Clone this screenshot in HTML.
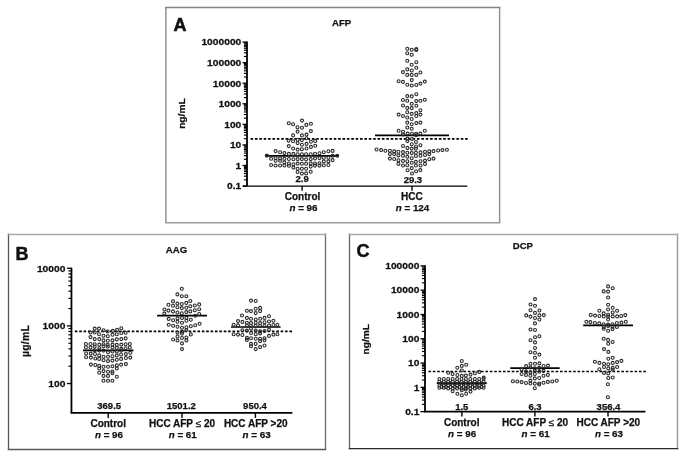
<!DOCTYPE html>
<html><head><meta charset="utf-8"><style>
html,body{margin:0;padding:0;background:#fff;}
svg{display:block;will-change:transform;font-family:"Liberation Sans",sans-serif;}
text{fill:#111;stroke:#111;stroke-width:0.25px;}
</style></head><body>
<svg width="685" height="459" viewBox="0 0 685 459">
<rect width="685" height="459" fill="#fff"/>
<line x1="165.90" y1="7.00" x2="165.90" y2="223.00" stroke="#8a8a8a" stroke-width="1.4" />
<line x1="499.60" y1="7.00" x2="499.60" y2="223.00" stroke="#8e8e8e" stroke-width="1.4" />
<line x1="165.20" y1="7.50" x2="500.30" y2="7.50" stroke="#848484" stroke-width="1.4" />
<line x1="165.20" y1="222.70" x2="500.30" y2="222.70" stroke="#9a9a9a" stroke-width="1.5" />
<line x1="8.50" y1="233.50" x2="8.50" y2="450.00" stroke="#555" stroke-width="1.3" />
<line x1="325.50" y1="233.50" x2="325.50" y2="450.00" stroke="#6a6a6a" stroke-width="1.3" />
<line x1="7.80" y1="234.40" x2="326.20" y2="234.40" stroke="#a8a8a8" stroke-width="1.5" />
<line x1="7.80" y1="449.50" x2="326.20" y2="449.50" stroke="#5a5a5a" stroke-width="1.4" />
<line x1="349.50" y1="233.50" x2="349.50" y2="449.30" stroke="#666" stroke-width="1.3" />
<line x1="677.50" y1="233.50" x2="677.50" y2="449.30" stroke="#999" stroke-width="1.4" />
<line x1="348.80" y1="234.40" x2="678.20" y2="234.40" stroke="#a8a8a8" stroke-width="1.5" />
<line x1="348.80" y1="448.60" x2="678.20" y2="448.60" stroke="#2a2a2a" stroke-width="1.4" />
<line x1="247.00" y1="41.59" x2="247.00" y2="186.10" stroke="#000" stroke-width="1.8" />
<line x1="242.50" y1="186.01" x2="247.00" y2="186.01" stroke="#000" stroke-width="1.3" />
<line x1="242.50" y1="165.45" x2="247.00" y2="165.45" stroke="#000" stroke-width="1.3" />
<line x1="242.50" y1="144.89" x2="247.00" y2="144.89" stroke="#000" stroke-width="1.3" />
<line x1="242.50" y1="124.33" x2="247.00" y2="124.33" stroke="#000" stroke-width="1.3" />
<line x1="242.50" y1="103.77" x2="247.00" y2="103.77" stroke="#000" stroke-width="1.3" />
<line x1="242.50" y1="83.21" x2="247.00" y2="83.21" stroke="#000" stroke-width="1.3" />
<line x1="242.50" y1="62.65" x2="247.00" y2="62.65" stroke="#000" stroke-width="1.3" />
<line x1="242.50" y1="42.09" x2="247.00" y2="42.09" stroke="#000" stroke-width="1.3" />
<line x1="243.90" y1="179.82" x2="247.00" y2="179.82" stroke="#000" stroke-width="1.15" />
<line x1="243.90" y1="176.20" x2="247.00" y2="176.20" stroke="#000" stroke-width="1.15" />
<line x1="243.90" y1="173.63" x2="247.00" y2="173.63" stroke="#000" stroke-width="1.15" />
<line x1="243.90" y1="171.64" x2="247.00" y2="171.64" stroke="#000" stroke-width="1.15" />
<line x1="243.90" y1="170.01" x2="247.00" y2="170.01" stroke="#000" stroke-width="1.15" />
<line x1="243.90" y1="168.63" x2="247.00" y2="168.63" stroke="#000" stroke-width="1.15" />
<line x1="243.90" y1="167.44" x2="247.00" y2="167.44" stroke="#000" stroke-width="1.15" />
<line x1="243.90" y1="166.39" x2="247.00" y2="166.39" stroke="#000" stroke-width="1.15" />
<line x1="243.90" y1="159.26" x2="247.00" y2="159.26" stroke="#000" stroke-width="1.15" />
<line x1="243.90" y1="155.64" x2="247.00" y2="155.64" stroke="#000" stroke-width="1.15" />
<line x1="243.90" y1="153.07" x2="247.00" y2="153.07" stroke="#000" stroke-width="1.15" />
<line x1="243.90" y1="151.08" x2="247.00" y2="151.08" stroke="#000" stroke-width="1.15" />
<line x1="243.90" y1="149.45" x2="247.00" y2="149.45" stroke="#000" stroke-width="1.15" />
<line x1="243.90" y1="148.07" x2="247.00" y2="148.07" stroke="#000" stroke-width="1.15" />
<line x1="243.90" y1="146.88" x2="247.00" y2="146.88" stroke="#000" stroke-width="1.15" />
<line x1="243.90" y1="145.83" x2="247.00" y2="145.83" stroke="#000" stroke-width="1.15" />
<line x1="243.90" y1="138.70" x2="247.00" y2="138.70" stroke="#000" stroke-width="1.15" />
<line x1="243.90" y1="135.08" x2="247.00" y2="135.08" stroke="#000" stroke-width="1.15" />
<line x1="243.90" y1="132.51" x2="247.00" y2="132.51" stroke="#000" stroke-width="1.15" />
<line x1="243.90" y1="130.52" x2="247.00" y2="130.52" stroke="#000" stroke-width="1.15" />
<line x1="243.90" y1="128.89" x2="247.00" y2="128.89" stroke="#000" stroke-width="1.15" />
<line x1="243.90" y1="127.51" x2="247.00" y2="127.51" stroke="#000" stroke-width="1.15" />
<line x1="243.90" y1="126.32" x2="247.00" y2="126.32" stroke="#000" stroke-width="1.15" />
<line x1="243.90" y1="125.27" x2="247.00" y2="125.27" stroke="#000" stroke-width="1.15" />
<line x1="243.90" y1="118.14" x2="247.00" y2="118.14" stroke="#000" stroke-width="1.15" />
<line x1="243.90" y1="114.52" x2="247.00" y2="114.52" stroke="#000" stroke-width="1.15" />
<line x1="243.90" y1="111.95" x2="247.00" y2="111.95" stroke="#000" stroke-width="1.15" />
<line x1="243.90" y1="109.96" x2="247.00" y2="109.96" stroke="#000" stroke-width="1.15" />
<line x1="243.90" y1="108.33" x2="247.00" y2="108.33" stroke="#000" stroke-width="1.15" />
<line x1="243.90" y1="106.95" x2="247.00" y2="106.95" stroke="#000" stroke-width="1.15" />
<line x1="243.90" y1="105.76" x2="247.00" y2="105.76" stroke="#000" stroke-width="1.15" />
<line x1="243.90" y1="104.71" x2="247.00" y2="104.71" stroke="#000" stroke-width="1.15" />
<line x1="243.90" y1="97.58" x2="247.00" y2="97.58" stroke="#000" stroke-width="1.15" />
<line x1="243.90" y1="93.96" x2="247.00" y2="93.96" stroke="#000" stroke-width="1.15" />
<line x1="243.90" y1="91.39" x2="247.00" y2="91.39" stroke="#000" stroke-width="1.15" />
<line x1="243.90" y1="89.40" x2="247.00" y2="89.40" stroke="#000" stroke-width="1.15" />
<line x1="243.90" y1="87.77" x2="247.00" y2="87.77" stroke="#000" stroke-width="1.15" />
<line x1="243.90" y1="86.39" x2="247.00" y2="86.39" stroke="#000" stroke-width="1.15" />
<line x1="243.90" y1="85.20" x2="247.00" y2="85.20" stroke="#000" stroke-width="1.15" />
<line x1="243.90" y1="84.15" x2="247.00" y2="84.15" stroke="#000" stroke-width="1.15" />
<line x1="243.90" y1="77.02" x2="247.00" y2="77.02" stroke="#000" stroke-width="1.15" />
<line x1="243.90" y1="73.40" x2="247.00" y2="73.40" stroke="#000" stroke-width="1.15" />
<line x1="243.90" y1="70.83" x2="247.00" y2="70.83" stroke="#000" stroke-width="1.15" />
<line x1="243.90" y1="68.84" x2="247.00" y2="68.84" stroke="#000" stroke-width="1.15" />
<line x1="243.90" y1="67.21" x2="247.00" y2="67.21" stroke="#000" stroke-width="1.15" />
<line x1="243.90" y1="65.83" x2="247.00" y2="65.83" stroke="#000" stroke-width="1.15" />
<line x1="243.90" y1="64.64" x2="247.00" y2="64.64" stroke="#000" stroke-width="1.15" />
<line x1="243.90" y1="63.59" x2="247.00" y2="63.59" stroke="#000" stroke-width="1.15" />
<line x1="243.90" y1="56.46" x2="247.00" y2="56.46" stroke="#000" stroke-width="1.15" />
<line x1="243.90" y1="52.84" x2="247.00" y2="52.84" stroke="#000" stroke-width="1.15" />
<line x1="243.90" y1="50.27" x2="247.00" y2="50.27" stroke="#000" stroke-width="1.15" />
<line x1="243.90" y1="48.28" x2="247.00" y2="48.28" stroke="#000" stroke-width="1.15" />
<line x1="243.90" y1="46.65" x2="247.00" y2="46.65" stroke="#000" stroke-width="1.15" />
<line x1="243.90" y1="45.27" x2="247.00" y2="45.27" stroke="#000" stroke-width="1.15" />
<line x1="243.90" y1="44.08" x2="247.00" y2="44.08" stroke="#000" stroke-width="1.15" />
<line x1="243.90" y1="43.03" x2="247.00" y2="43.03" stroke="#000" stroke-width="1.15" />
<text transform="translate(241.30,189.31) scale(1.09,1)" font-size="9.4" text-anchor="end" font-weight="bold">0.1</text>
<text transform="translate(241.30,168.75) scale(1.09,1)" font-size="9.4" text-anchor="end" font-weight="bold">1</text>
<text transform="translate(241.30,148.19) scale(1.09,1)" font-size="9.4" text-anchor="end" font-weight="bold">10</text>
<text transform="translate(241.30,127.63) scale(1.09,1)" font-size="9.4" text-anchor="end" font-weight="bold">100</text>
<text transform="translate(241.30,107.07) scale(1.09,1)" font-size="9.4" text-anchor="end" font-weight="bold">1000</text>
<text transform="translate(241.30,86.51) scale(1.09,1)" font-size="9.4" text-anchor="end" font-weight="bold">10000</text>
<text transform="translate(241.30,65.95) scale(1.09,1)" font-size="9.4" text-anchor="end" font-weight="bold">100000</text>
<text transform="translate(241.30,45.39) scale(1.09,1)" font-size="9.4" text-anchor="end" font-weight="bold">1000000</text>
<line x1="243.00" y1="186.10" x2="467.30" y2="186.10" stroke="#000" stroke-width="1.45" />
<line x1="302.10" y1="186.10" x2="302.10" y2="190.80" stroke="#000" stroke-width="1.4" />
<line x1="412.00" y1="186.10" x2="412.00" y2="190.80" stroke="#000" stroke-width="1.4" />
<line x1="250.54" y1="138.80" x2="467.76" y2="138.80" stroke="#000" stroke-width="1.65" stroke-dasharray="2.6 1.779"/>
<line x1="265.40" y1="155.94" x2="338.90" y2="155.94" stroke="#000" stroke-width="1.7" />
<line x1="375.00" y1="135.29" x2="449.00" y2="135.29" stroke="#000" stroke-width="1.7" />
<line x1="71.45" y1="267.75" x2="71.45" y2="412.90" stroke="#000" stroke-width="1.8" />
<line x1="66.95" y1="383.55" x2="71.45" y2="383.55" stroke="#000" stroke-width="1.3" />
<line x1="66.95" y1="325.90" x2="71.45" y2="325.90" stroke="#000" stroke-width="1.3" />
<line x1="66.95" y1="268.25" x2="71.45" y2="268.25" stroke="#000" stroke-width="1.3" />
<line x1="68.35" y1="366.20" x2="71.45" y2="366.20" stroke="#000" stroke-width="1.15" />
<line x1="68.35" y1="356.04" x2="71.45" y2="356.04" stroke="#000" stroke-width="1.15" />
<line x1="68.35" y1="348.84" x2="71.45" y2="348.84" stroke="#000" stroke-width="1.15" />
<line x1="68.35" y1="343.25" x2="71.45" y2="343.25" stroke="#000" stroke-width="1.15" />
<line x1="68.35" y1="338.69" x2="71.45" y2="338.69" stroke="#000" stroke-width="1.15" />
<line x1="68.35" y1="334.83" x2="71.45" y2="334.83" stroke="#000" stroke-width="1.15" />
<line x1="68.35" y1="331.49" x2="71.45" y2="331.49" stroke="#000" stroke-width="1.15" />
<line x1="68.35" y1="328.54" x2="71.45" y2="328.54" stroke="#000" stroke-width="1.15" />
<line x1="68.35" y1="308.55" x2="71.45" y2="308.55" stroke="#000" stroke-width="1.15" />
<line x1="68.35" y1="298.39" x2="71.45" y2="298.39" stroke="#000" stroke-width="1.15" />
<line x1="68.35" y1="291.19" x2="71.45" y2="291.19" stroke="#000" stroke-width="1.15" />
<line x1="68.35" y1="285.60" x2="71.45" y2="285.60" stroke="#000" stroke-width="1.15" />
<line x1="68.35" y1="281.04" x2="71.45" y2="281.04" stroke="#000" stroke-width="1.15" />
<line x1="68.35" y1="277.18" x2="71.45" y2="277.18" stroke="#000" stroke-width="1.15" />
<line x1="68.35" y1="273.84" x2="71.45" y2="273.84" stroke="#000" stroke-width="1.15" />
<line x1="68.35" y1="270.89" x2="71.45" y2="270.89" stroke="#000" stroke-width="1.15" />
<text transform="translate(65.40,386.85) scale(1.09,1)" font-size="9.4" text-anchor="end" font-weight="bold">100</text>
<text transform="translate(65.40,329.20) scale(1.09,1)" font-size="9.4" text-anchor="end" font-weight="bold">1000</text>
<text transform="translate(65.40,271.55) scale(1.09,1)" font-size="9.4" text-anchor="end" font-weight="bold">10000</text>
<line x1="70.55" y1="412.90" x2="292.40" y2="412.90" stroke="#000" stroke-width="1.75" />
<line x1="108.20" y1="412.90" x2="108.20" y2="418.00" stroke="#000" stroke-width="1.4" />
<line x1="182.00" y1="412.90" x2="182.00" y2="418.00" stroke="#000" stroke-width="1.4" />
<line x1="255.40" y1="412.90" x2="255.40" y2="418.00" stroke="#000" stroke-width="1.4" />
<line x1="74.83" y1="331.30" x2="292.00" y2="331.30" stroke="#000" stroke-width="1.65" stroke-dasharray="2.6 1.779"/>
<line x1="83.00" y1="350.30" x2="133.50" y2="350.30" stroke="#000" stroke-width="1.7" />
<line x1="157.10" y1="315.60" x2="207.00" y2="315.60" stroke="#000" stroke-width="1.7" />
<line x1="231.00" y1="327.00" x2="280.60" y2="327.00" stroke="#000" stroke-width="1.7" />
<line x1="425.00" y1="265.35" x2="425.00" y2="411.60" stroke="#000" stroke-width="1.8" />
<line x1="420.50" y1="411.65" x2="425.00" y2="411.65" stroke="#000" stroke-width="1.3" />
<line x1="420.50" y1="387.35" x2="425.00" y2="387.35" stroke="#000" stroke-width="1.3" />
<line x1="420.50" y1="363.05" x2="425.00" y2="363.05" stroke="#000" stroke-width="1.3" />
<line x1="420.50" y1="338.75" x2="425.00" y2="338.75" stroke="#000" stroke-width="1.3" />
<line x1="420.50" y1="314.45" x2="425.00" y2="314.45" stroke="#000" stroke-width="1.3" />
<line x1="420.50" y1="290.15" x2="425.00" y2="290.15" stroke="#000" stroke-width="1.3" />
<line x1="420.50" y1="265.85" x2="425.00" y2="265.85" stroke="#000" stroke-width="1.3" />
<line x1="421.90" y1="404.33" x2="425.00" y2="404.33" stroke="#000" stroke-width="1.15" />
<line x1="421.90" y1="400.06" x2="425.00" y2="400.06" stroke="#000" stroke-width="1.15" />
<line x1="421.90" y1="397.02" x2="425.00" y2="397.02" stroke="#000" stroke-width="1.15" />
<line x1="421.90" y1="394.67" x2="425.00" y2="394.67" stroke="#000" stroke-width="1.15" />
<line x1="421.90" y1="392.74" x2="425.00" y2="392.74" stroke="#000" stroke-width="1.15" />
<line x1="421.90" y1="391.11" x2="425.00" y2="391.11" stroke="#000" stroke-width="1.15" />
<line x1="421.90" y1="389.70" x2="425.00" y2="389.70" stroke="#000" stroke-width="1.15" />
<line x1="421.90" y1="388.46" x2="425.00" y2="388.46" stroke="#000" stroke-width="1.15" />
<line x1="421.90" y1="380.03" x2="425.00" y2="380.03" stroke="#000" stroke-width="1.15" />
<line x1="421.90" y1="375.76" x2="425.00" y2="375.76" stroke="#000" stroke-width="1.15" />
<line x1="421.90" y1="372.72" x2="425.00" y2="372.72" stroke="#000" stroke-width="1.15" />
<line x1="421.90" y1="370.37" x2="425.00" y2="370.37" stroke="#000" stroke-width="1.15" />
<line x1="421.90" y1="368.44" x2="425.00" y2="368.44" stroke="#000" stroke-width="1.15" />
<line x1="421.90" y1="366.81" x2="425.00" y2="366.81" stroke="#000" stroke-width="1.15" />
<line x1="421.90" y1="365.40" x2="425.00" y2="365.40" stroke="#000" stroke-width="1.15" />
<line x1="421.90" y1="364.16" x2="425.00" y2="364.16" stroke="#000" stroke-width="1.15" />
<line x1="421.90" y1="355.73" x2="425.00" y2="355.73" stroke="#000" stroke-width="1.15" />
<line x1="421.90" y1="351.46" x2="425.00" y2="351.46" stroke="#000" stroke-width="1.15" />
<line x1="421.90" y1="348.42" x2="425.00" y2="348.42" stroke="#000" stroke-width="1.15" />
<line x1="421.90" y1="346.07" x2="425.00" y2="346.07" stroke="#000" stroke-width="1.15" />
<line x1="421.90" y1="344.14" x2="425.00" y2="344.14" stroke="#000" stroke-width="1.15" />
<line x1="421.90" y1="342.51" x2="425.00" y2="342.51" stroke="#000" stroke-width="1.15" />
<line x1="421.90" y1="341.10" x2="425.00" y2="341.10" stroke="#000" stroke-width="1.15" />
<line x1="421.90" y1="339.86" x2="425.00" y2="339.86" stroke="#000" stroke-width="1.15" />
<line x1="421.90" y1="331.43" x2="425.00" y2="331.43" stroke="#000" stroke-width="1.15" />
<line x1="421.90" y1="327.16" x2="425.00" y2="327.16" stroke="#000" stroke-width="1.15" />
<line x1="421.90" y1="324.12" x2="425.00" y2="324.12" stroke="#000" stroke-width="1.15" />
<line x1="421.90" y1="321.77" x2="425.00" y2="321.77" stroke="#000" stroke-width="1.15" />
<line x1="421.90" y1="319.84" x2="425.00" y2="319.84" stroke="#000" stroke-width="1.15" />
<line x1="421.90" y1="318.21" x2="425.00" y2="318.21" stroke="#000" stroke-width="1.15" />
<line x1="421.90" y1="316.80" x2="425.00" y2="316.80" stroke="#000" stroke-width="1.15" />
<line x1="421.90" y1="315.56" x2="425.00" y2="315.56" stroke="#000" stroke-width="1.15" />
<line x1="421.90" y1="307.13" x2="425.00" y2="307.13" stroke="#000" stroke-width="1.15" />
<line x1="421.90" y1="302.86" x2="425.00" y2="302.86" stroke="#000" stroke-width="1.15" />
<line x1="421.90" y1="299.82" x2="425.00" y2="299.82" stroke="#000" stroke-width="1.15" />
<line x1="421.90" y1="297.47" x2="425.00" y2="297.47" stroke="#000" stroke-width="1.15" />
<line x1="421.90" y1="295.54" x2="425.00" y2="295.54" stroke="#000" stroke-width="1.15" />
<line x1="421.90" y1="293.91" x2="425.00" y2="293.91" stroke="#000" stroke-width="1.15" />
<line x1="421.90" y1="292.50" x2="425.00" y2="292.50" stroke="#000" stroke-width="1.15" />
<line x1="421.90" y1="291.26" x2="425.00" y2="291.26" stroke="#000" stroke-width="1.15" />
<line x1="421.90" y1="282.83" x2="425.00" y2="282.83" stroke="#000" stroke-width="1.15" />
<line x1="421.90" y1="278.56" x2="425.00" y2="278.56" stroke="#000" stroke-width="1.15" />
<line x1="421.90" y1="275.52" x2="425.00" y2="275.52" stroke="#000" stroke-width="1.15" />
<line x1="421.90" y1="273.17" x2="425.00" y2="273.17" stroke="#000" stroke-width="1.15" />
<line x1="421.90" y1="271.24" x2="425.00" y2="271.24" stroke="#000" stroke-width="1.15" />
<line x1="421.90" y1="269.61" x2="425.00" y2="269.61" stroke="#000" stroke-width="1.15" />
<line x1="421.90" y1="268.20" x2="425.00" y2="268.20" stroke="#000" stroke-width="1.15" />
<line x1="421.90" y1="266.96" x2="425.00" y2="266.96" stroke="#000" stroke-width="1.15" />
<text transform="translate(419.40,414.95) scale(1.09,1)" font-size="9.4" text-anchor="end" font-weight="bold">0.1</text>
<text transform="translate(419.40,390.65) scale(1.09,1)" font-size="9.4" text-anchor="end" font-weight="bold">1</text>
<text transform="translate(419.40,366.35) scale(1.09,1)" font-size="9.4" text-anchor="end" font-weight="bold">10</text>
<text transform="translate(419.40,342.05) scale(1.09,1)" font-size="9.4" text-anchor="end" font-weight="bold">100</text>
<text transform="translate(419.40,317.75) scale(1.09,1)" font-size="9.4" text-anchor="end" font-weight="bold">1000</text>
<text transform="translate(419.40,293.45) scale(1.09,1)" font-size="9.4" text-anchor="end" font-weight="bold">10000</text>
<text transform="translate(419.40,269.15) scale(1.09,1)" font-size="9.4" text-anchor="end" font-weight="bold">100000</text>
<line x1="424.00" y1="411.60" x2="645.40" y2="411.60" stroke="#000" stroke-width="1.6" />
<line x1="461.90" y1="411.60" x2="461.90" y2="416.50" stroke="#000" stroke-width="1.4" />
<line x1="534.90" y1="411.60" x2="534.90" y2="416.50" stroke="#000" stroke-width="1.4" />
<line x1="608.00" y1="411.60" x2="608.00" y2="416.50" stroke="#000" stroke-width="1.4" />
<line x1="428.40" y1="371.50" x2="645.90" y2="371.50" stroke="#000" stroke-width="1.65" stroke-dasharray="2.6 1.786"/>
<line x1="436.80" y1="383.20" x2="486.70" y2="383.20" stroke="#000" stroke-width="1.7" />
<line x1="510.30" y1="368.10" x2="559.70" y2="368.10" stroke="#000" stroke-width="1.7" />
<line x1="583.20" y1="325.30" x2="633.00" y2="325.30" stroke="#000" stroke-width="1.7" />
<g fill="none" stroke="#2a2a2a" stroke-width="1.1">
<circle cx="288.8" cy="123.3" r="1.48"/>
<circle cx="293.1" cy="124.2" r="1.48"/>
<circle cx="302.0" cy="120.6" r="1.48"/>
<circle cx="297.5" cy="127.3" r="1.48"/>
<circle cx="302.0" cy="127.7" r="1.48"/>
<circle cx="306.3" cy="124.9" r="1.48"/>
<circle cx="310.9" cy="123.8" r="1.48"/>
<circle cx="297.6" cy="131.6" r="1.48"/>
<circle cx="310.9" cy="131.1" r="1.48"/>
<circle cx="293.1" cy="135.4" r="1.48"/>
<circle cx="301.9" cy="135.4" r="1.48"/>
<circle cx="306.5" cy="134.6" r="1.48"/>
<circle cx="306.5" cy="138.2" r="1.48"/>
<circle cx="288.5" cy="140.6" r="1.48"/>
<circle cx="293.1" cy="141.2" r="1.48"/>
<circle cx="297.6" cy="139.8" r="1.48"/>
<circle cx="301.9" cy="140.1" r="1.48"/>
<circle cx="297.6" cy="143.1" r="1.48"/>
<circle cx="301.9" cy="144.7" r="1.48"/>
<circle cx="306.5" cy="143.9" r="1.48"/>
<circle cx="310.9" cy="141.7" r="1.48"/>
<circle cx="315.2" cy="140.9" r="1.48"/>
<circle cx="288.8" cy="146.1" r="1.48"/>
<circle cx="293.1" cy="148.5" r="1.48"/>
<circle cx="297.6" cy="149.6" r="1.48"/>
<circle cx="301.9" cy="149.3" r="1.48"/>
<circle cx="306.5" cy="148.5" r="1.48"/>
<circle cx="310.9" cy="146.9" r="1.48"/>
<circle cx="315.2" cy="145.8" r="1.48"/>
<circle cx="266.8" cy="155.6" r="1.48"/>
<circle cx="271.1" cy="158.7" r="1.48"/>
<circle cx="271.1" cy="165.0" r="1.48"/>
<circle cx="275.6" cy="151.1" r="1.48"/>
<circle cx="275.6" cy="158.2" r="1.48"/>
<circle cx="275.6" cy="160.8" r="1.48"/>
<circle cx="275.6" cy="165.5" r="1.48"/>
<circle cx="280.1" cy="152.2" r="1.48"/>
<circle cx="280.1" cy="158.5" r="1.48"/>
<circle cx="280.1" cy="160.8" r="1.48"/>
<circle cx="280.1" cy="165.5" r="1.48"/>
<circle cx="284.4" cy="153.1" r="1.48"/>
<circle cx="284.4" cy="158.7" r="1.48"/>
<circle cx="284.4" cy="162.4" r="1.48"/>
<circle cx="284.4" cy="165.5" r="1.48"/>
<circle cx="288.9" cy="153.9" r="1.48"/>
<circle cx="288.9" cy="159.0" r="1.48"/>
<circle cx="288.9" cy="163.5" r="1.48"/>
<circle cx="288.9" cy="165.8" r="1.48"/>
<circle cx="293.4" cy="153.9" r="1.48"/>
<circle cx="293.4" cy="159.3" r="1.48"/>
<circle cx="293.4" cy="164.2" r="1.48"/>
<circle cx="293.4" cy="167.6" r="1.48"/>
<circle cx="297.6" cy="154.2" r="1.48"/>
<circle cx="297.6" cy="159.1" r="1.48"/>
<circle cx="297.6" cy="163.6" r="1.48"/>
<circle cx="297.6" cy="168.7" r="1.48"/>
<circle cx="297.6" cy="172.0" r="1.48"/>
<circle cx="301.9" cy="154.2" r="1.48"/>
<circle cx="301.9" cy="159.1" r="1.48"/>
<circle cx="301.9" cy="163.7" r="1.48"/>
<circle cx="301.9" cy="168.8" r="1.48"/>
<circle cx="301.9" cy="173.6" r="1.48"/>
<circle cx="306.1" cy="154.2" r="1.48"/>
<circle cx="306.1" cy="159.4" r="1.48"/>
<circle cx="306.1" cy="163.7" r="1.48"/>
<circle cx="306.1" cy="168.7" r="1.48"/>
<circle cx="306.1" cy="173.4" r="1.48"/>
<circle cx="310.7" cy="154.2" r="1.48"/>
<circle cx="310.7" cy="159.1" r="1.48"/>
<circle cx="310.7" cy="163.4" r="1.48"/>
<circle cx="310.7" cy="166.6" r="1.48"/>
<circle cx="310.7" cy="171.7" r="1.48"/>
<circle cx="315.0" cy="153.8" r="1.48"/>
<circle cx="315.0" cy="158.4" r="1.48"/>
<circle cx="315.0" cy="163.5" r="1.48"/>
<circle cx="315.0" cy="165.6" r="1.48"/>
<circle cx="319.5" cy="153.2" r="1.48"/>
<circle cx="319.5" cy="158.1" r="1.48"/>
<circle cx="319.5" cy="163.3" r="1.48"/>
<circle cx="319.5" cy="165.6" r="1.48"/>
<circle cx="323.8" cy="152.2" r="1.48"/>
<circle cx="323.8" cy="157.8" r="1.48"/>
<circle cx="323.8" cy="161.4" r="1.48"/>
<circle cx="323.8" cy="165.3" r="1.48"/>
<circle cx="328.4" cy="151.2" r="1.48"/>
<circle cx="328.4" cy="157.8" r="1.48"/>
<circle cx="328.4" cy="161.4" r="1.48"/>
<circle cx="328.4" cy="165.0" r="1.48"/>
<circle cx="332.6" cy="150.9" r="1.48"/>
<circle cx="332.6" cy="155.8" r="1.48"/>
<circle cx="332.6" cy="160.1" r="1.48"/>
<circle cx="337.2" cy="155.8" r="1.48"/>
<circle cx="407.3" cy="48.7" r="1.48"/>
<circle cx="411.7" cy="49.8" r="1.48"/>
<circle cx="416.3" cy="50.0" r="1.48"/>
<circle cx="416.3" cy="49.0" r="1.48"/>
<circle cx="407.3" cy="53.3" r="1.48"/>
<circle cx="411.7" cy="54.7" r="1.48"/>
<circle cx="407.3" cy="60.7" r="1.48"/>
<circle cx="411.7" cy="64.8" r="1.48"/>
<circle cx="416.3" cy="62.3" r="1.48"/>
<circle cx="407.3" cy="69.4" r="1.48"/>
<circle cx="411.7" cy="70.5" r="1.48"/>
<circle cx="416.3" cy="67.8" r="1.48"/>
<circle cx="403.0" cy="72.1" r="1.48"/>
<circle cx="420.4" cy="72.5" r="1.48"/>
<circle cx="407.3" cy="74.9" r="1.48"/>
<circle cx="411.7" cy="74.9" r="1.48"/>
<circle cx="416.3" cy="74.9" r="1.48"/>
<circle cx="411.7" cy="80.1" r="1.48"/>
<circle cx="398.6" cy="81.2" r="1.48"/>
<circle cx="403.0" cy="81.9" r="1.48"/>
<circle cx="407.3" cy="84.7" r="1.48"/>
<circle cx="411.7" cy="85.5" r="1.48"/>
<circle cx="416.3" cy="85.0" r="1.48"/>
<circle cx="420.4" cy="83.6" r="1.48"/>
<circle cx="424.8" cy="81.6" r="1.48"/>
<circle cx="416.3" cy="94.3" r="1.48"/>
<circle cx="407.3" cy="96.1" r="1.48"/>
<circle cx="411.7" cy="96.4" r="1.48"/>
<circle cx="403.0" cy="100.0" r="1.48"/>
<circle cx="407.3" cy="100.8" r="1.48"/>
<circle cx="416.3" cy="101.1" r="1.48"/>
<circle cx="420.4" cy="100.8" r="1.48"/>
<circle cx="424.8" cy="99.7" r="1.48"/>
<circle cx="411.7" cy="103.7" r="1.48"/>
<circle cx="403.0" cy="105.5" r="1.48"/>
<circle cx="407.3" cy="107.9" r="1.48"/>
<circle cx="411.7" cy="108.1" r="1.48"/>
<circle cx="416.3" cy="105.7" r="1.48"/>
<circle cx="407.3" cy="112.2" r="1.48"/>
<circle cx="420.4" cy="110.3" r="1.48"/>
<circle cx="398.6" cy="114.6" r="1.48"/>
<circle cx="403.0" cy="116.0" r="1.48"/>
<circle cx="407.3" cy="117.5" r="1.48"/>
<circle cx="411.7" cy="113.9" r="1.48"/>
<circle cx="411.7" cy="119.0" r="1.48"/>
<circle cx="416.3" cy="113.1" r="1.48"/>
<circle cx="416.3" cy="116.0" r="1.48"/>
<circle cx="420.4" cy="114.6" r="1.48"/>
<circle cx="407.3" cy="122.6" r="1.48"/>
<circle cx="411.7" cy="124.2" r="1.48"/>
<circle cx="416.3" cy="123.1" r="1.48"/>
<circle cx="420.4" cy="122.6" r="1.48"/>
<circle cx="407.3" cy="127.5" r="1.48"/>
<circle cx="411.7" cy="128.8" r="1.48"/>
<circle cx="398.6" cy="130.8" r="1.48"/>
<circle cx="403.0" cy="131.8" r="1.48"/>
<circle cx="424.8" cy="130.8" r="1.48"/>
<circle cx="403.0" cy="134.5" r="1.48"/>
<circle cx="407.6" cy="133.6" r="1.48"/>
<circle cx="412.0" cy="133.8" r="1.48"/>
<circle cx="416.1" cy="133.8" r="1.48"/>
<circle cx="420.3" cy="133.6" r="1.48"/>
<circle cx="416.1" cy="135.3" r="1.48"/>
<circle cx="407.5" cy="138.6" r="1.48"/>
<circle cx="412.0" cy="139.0" r="1.48"/>
<circle cx="407.4" cy="141.1" r="1.48"/>
<circle cx="416.0" cy="142.0" r="1.48"/>
<circle cx="411.7" cy="144.2" r="1.48"/>
<circle cx="403.0" cy="146.0" r="1.48"/>
<circle cx="416.0" cy="146.5" r="1.48"/>
<circle cx="420.4" cy="145.2" r="1.48"/>
<circle cx="407.4" cy="147.9" r="1.48"/>
<circle cx="411.7" cy="148.6" r="1.48"/>
<circle cx="415.9" cy="148.8" r="1.48"/>
<circle cx="376.5" cy="149.5" r="1.48"/>
<circle cx="381.1" cy="150.1" r="1.48"/>
<circle cx="385.4" cy="150.8" r="1.48"/>
<circle cx="389.9" cy="150.8" r="1.48"/>
<circle cx="394.2" cy="151.4" r="1.48"/>
<circle cx="398.4" cy="151.8" r="1.48"/>
<circle cx="403.0" cy="152.1" r="1.48"/>
<circle cx="407.3" cy="152.7" r="1.48"/>
<circle cx="411.7" cy="153.1" r="1.48"/>
<circle cx="415.9" cy="152.7" r="1.48"/>
<circle cx="420.5" cy="152.4" r="1.48"/>
<circle cx="425.0" cy="151.8" r="1.48"/>
<circle cx="429.3" cy="151.4" r="1.48"/>
<circle cx="433.5" cy="151.1" r="1.48"/>
<circle cx="438.1" cy="150.5" r="1.48"/>
<circle cx="442.4" cy="150.1" r="1.48"/>
<circle cx="446.9" cy="149.8" r="1.48"/>
<circle cx="389.9" cy="154.1" r="1.48"/>
<circle cx="394.2" cy="154.1" r="1.48"/>
<circle cx="398.4" cy="155.4" r="1.48"/>
<circle cx="403.0" cy="155.7" r="1.48"/>
<circle cx="407.3" cy="156.7" r="1.48"/>
<circle cx="415.9" cy="156.0" r="1.48"/>
<circle cx="420.5" cy="155.7" r="1.48"/>
<circle cx="425.0" cy="155.0" r="1.48"/>
<circle cx="429.3" cy="154.1" r="1.48"/>
<circle cx="389.9" cy="158.6" r="1.48"/>
<circle cx="394.2" cy="159.0" r="1.48"/>
<circle cx="398.4" cy="160.3" r="1.48"/>
<circle cx="403.0" cy="160.9" r="1.48"/>
<circle cx="407.3" cy="161.2" r="1.48"/>
<circle cx="411.7" cy="158.2" r="1.48"/>
<circle cx="415.9" cy="161.9" r="1.48"/>
<circle cx="420.5" cy="161.2" r="1.48"/>
<circle cx="425.0" cy="160.6" r="1.48"/>
<circle cx="429.3" cy="159.3" r="1.48"/>
<circle cx="433.5" cy="158.6" r="1.48"/>
<circle cx="398.4" cy="163.9" r="1.48"/>
<circle cx="403.0" cy="165.5" r="1.48"/>
<circle cx="407.3" cy="165.2" r="1.48"/>
<circle cx="411.7" cy="162.8" r="1.48"/>
<circle cx="415.9" cy="165.5" r="1.48"/>
<circle cx="420.5" cy="165.5" r="1.48"/>
<circle cx="425.0" cy="163.9" r="1.48"/>
<circle cx="411.7" cy="168.1" r="1.48"/>
<circle cx="407.6" cy="170.3" r="1.48"/>
<circle cx="416.1" cy="171.2" r="1.48"/>
<circle cx="420.3" cy="170.1" r="1.48"/>
<circle cx="412.0" cy="173.5" r="1.48"/>
<circle cx="94.7" cy="328.6" r="1.48"/>
<circle cx="99.0" cy="328.6" r="1.48"/>
<circle cx="103.5" cy="330.2" r="1.48"/>
<circle cx="107.7" cy="331.5" r="1.48"/>
<circle cx="112.8" cy="330.9" r="1.48"/>
<circle cx="117.1" cy="329.9" r="1.48"/>
<circle cx="121.3" cy="328.3" r="1.48"/>
<circle cx="90.5" cy="332.5" r="1.48"/>
<circle cx="94.7" cy="332.5" r="1.48"/>
<circle cx="99.0" cy="334.2" r="1.48"/>
<circle cx="103.5" cy="335.8" r="1.48"/>
<circle cx="107.8" cy="336.3" r="1.48"/>
<circle cx="112.5" cy="334.8" r="1.48"/>
<circle cx="116.8" cy="334.2" r="1.48"/>
<circle cx="121.3" cy="333.0" r="1.48"/>
<circle cx="125.6" cy="332.8" r="1.48"/>
<circle cx="90.5" cy="337.1" r="1.48"/>
<circle cx="94.7" cy="339.1" r="1.48"/>
<circle cx="99.3" cy="339.1" r="1.48"/>
<circle cx="103.5" cy="340.4" r="1.48"/>
<circle cx="107.8" cy="340.8" r="1.48"/>
<circle cx="112.5" cy="340.4" r="1.48"/>
<circle cx="116.8" cy="339.4" r="1.48"/>
<circle cx="121.3" cy="339.1" r="1.48"/>
<circle cx="125.6" cy="338.4" r="1.48"/>
<circle cx="85.9" cy="344.0" r="1.48"/>
<circle cx="90.5" cy="344.0" r="1.48"/>
<circle cx="94.7" cy="344.3" r="1.48"/>
<circle cx="99.3" cy="344.6" r="1.48"/>
<circle cx="103.5" cy="344.3" r="1.48"/>
<circle cx="107.7" cy="344.7" r="1.48"/>
<circle cx="112.5" cy="344.6" r="1.48"/>
<circle cx="116.8" cy="344.9" r="1.48"/>
<circle cx="121.3" cy="344.6" r="1.48"/>
<circle cx="125.6" cy="344.3" r="1.48"/>
<circle cx="129.8" cy="344.0" r="1.48"/>
<circle cx="85.9" cy="347.2" r="1.48"/>
<circle cx="90.5" cy="347.5" r="1.48"/>
<circle cx="94.7" cy="346.6" r="1.48"/>
<circle cx="99.3" cy="348.2" r="1.48"/>
<circle cx="103.5" cy="346.2" r="1.48"/>
<circle cx="107.8" cy="346.6" r="1.48"/>
<circle cx="121.3" cy="348.9" r="1.48"/>
<circle cx="125.6" cy="348.2" r="1.48"/>
<circle cx="129.8" cy="347.5" r="1.48"/>
<circle cx="86.1" cy="353.5" r="1.48"/>
<circle cx="90.7" cy="353.6" r="1.48"/>
<circle cx="95.0" cy="354.0" r="1.48"/>
<circle cx="99.2" cy="355.4" r="1.48"/>
<circle cx="103.5" cy="356.7" r="1.48"/>
<circle cx="108.0" cy="352.2" r="1.48"/>
<circle cx="108.0" cy="356.7" r="1.48"/>
<circle cx="112.4" cy="351.5" r="1.48"/>
<circle cx="112.4" cy="356.3" r="1.48"/>
<circle cx="116.8" cy="351.5" r="1.48"/>
<circle cx="116.8" cy="355.4" r="1.48"/>
<circle cx="121.1" cy="350.6" r="1.48"/>
<circle cx="121.1" cy="354.5" r="1.48"/>
<circle cx="125.9" cy="354.1" r="1.48"/>
<circle cx="130.3" cy="352.8" r="1.48"/>
<circle cx="86.1" cy="357.2" r="1.48"/>
<circle cx="90.9" cy="357.6" r="1.48"/>
<circle cx="95.3" cy="358.5" r="1.48"/>
<circle cx="99.2" cy="358.9" r="1.48"/>
<circle cx="103.5" cy="360.2" r="1.48"/>
<circle cx="108.0" cy="361.1" r="1.48"/>
<circle cx="112.4" cy="360.6" r="1.48"/>
<circle cx="116.8" cy="359.8" r="1.48"/>
<circle cx="121.1" cy="358.9" r="1.48"/>
<circle cx="125.9" cy="358.0" r="1.48"/>
<circle cx="130.3" cy="357.6" r="1.48"/>
<circle cx="90.9" cy="364.6" r="1.48"/>
<circle cx="95.3" cy="365.0" r="1.48"/>
<circle cx="99.2" cy="365.9" r="1.48"/>
<circle cx="99.2" cy="368.5" r="1.48"/>
<circle cx="103.5" cy="366.7" r="1.48"/>
<circle cx="108.0" cy="366.7" r="1.48"/>
<circle cx="112.4" cy="366.3" r="1.48"/>
<circle cx="116.8" cy="365.4" r="1.48"/>
<circle cx="116.8" cy="368.5" r="1.48"/>
<circle cx="121.1" cy="364.6" r="1.48"/>
<circle cx="125.9" cy="364.1" r="1.48"/>
<circle cx="99.2" cy="372.8" r="1.48"/>
<circle cx="103.5" cy="371.1" r="1.48"/>
<circle cx="108.0" cy="371.7" r="1.48"/>
<circle cx="112.4" cy="371.5" r="1.48"/>
<circle cx="112.4" cy="373.3" r="1.48"/>
<circle cx="103.5" cy="375.9" r="1.48"/>
<circle cx="108.0" cy="375.9" r="1.48"/>
<circle cx="116.8" cy="376.8" r="1.48"/>
<circle cx="103.5" cy="380.7" r="1.48"/>
<circle cx="108.0" cy="380.7" r="1.48"/>
<circle cx="112.4" cy="380.7" r="1.48"/>
<circle cx="99.2" cy="350.4" r="1.48"/>
<circle cx="103.5" cy="350.6" r="1.48"/>
<circle cx="94.7" cy="350.3" r="1.48"/>
<circle cx="112.5" cy="347.6" r="1.48"/>
<circle cx="116.8" cy="347.9" r="1.48"/>
<circle cx="181.8" cy="288.8" r="1.48"/>
<circle cx="177.4" cy="294.4" r="1.48"/>
<circle cx="181.8" cy="296.2" r="1.48"/>
<circle cx="186.3" cy="296.2" r="1.48"/>
<circle cx="173.0" cy="301.4" r="1.48"/>
<circle cx="177.4" cy="303.6" r="1.48"/>
<circle cx="181.8" cy="304.0" r="1.48"/>
<circle cx="186.3" cy="302.9" r="1.48"/>
<circle cx="190.3" cy="301.0" r="1.48"/>
<circle cx="168.5" cy="304.7" r="1.48"/>
<circle cx="173.0" cy="305.8" r="1.48"/>
<circle cx="177.4" cy="307.3" r="1.48"/>
<circle cx="181.8" cy="308.1" r="1.48"/>
<circle cx="186.3" cy="307.7" r="1.48"/>
<circle cx="190.3" cy="306.2" r="1.48"/>
<circle cx="194.8" cy="305.5" r="1.48"/>
<circle cx="199.2" cy="304.4" r="1.48"/>
<circle cx="164.4" cy="309.5" r="1.48"/>
<circle cx="168.5" cy="310.6" r="1.48"/>
<circle cx="173.0" cy="311.4" r="1.48"/>
<circle cx="177.4" cy="312.5" r="1.48"/>
<circle cx="181.8" cy="313.2" r="1.48"/>
<circle cx="186.3" cy="312.1" r="1.48"/>
<circle cx="190.3" cy="311.4" r="1.48"/>
<circle cx="194.8" cy="310.3" r="1.48"/>
<circle cx="199.2" cy="309.2" r="1.48"/>
<circle cx="164.4" cy="313.6" r="1.48"/>
<circle cx="199.2" cy="314.0" r="1.48"/>
<circle cx="195.2" cy="315.7" r="1.48"/>
<circle cx="168.7" cy="318.9" r="1.48"/>
<circle cx="173.1" cy="320.3" r="1.48"/>
<circle cx="177.5" cy="318.4" r="1.48"/>
<circle cx="177.5" cy="321.8" r="1.48"/>
<circle cx="182.0" cy="317.9" r="1.48"/>
<circle cx="182.0" cy="322.8" r="1.48"/>
<circle cx="186.4" cy="317.9" r="1.48"/>
<circle cx="186.4" cy="320.8" r="1.48"/>
<circle cx="190.8" cy="319.8" r="1.48"/>
<circle cx="168.7" cy="324.7" r="1.48"/>
<circle cx="173.1" cy="325.7" r="1.48"/>
<circle cx="177.5" cy="326.7" r="1.48"/>
<circle cx="182.0" cy="327.7" r="1.48"/>
<circle cx="186.4" cy="327.2" r="1.48"/>
<circle cx="186.4" cy="330.1" r="1.48"/>
<circle cx="190.8" cy="326.2" r="1.48"/>
<circle cx="195.2" cy="325.2" r="1.48"/>
<circle cx="199.6" cy="323.8" r="1.48"/>
<circle cx="177.5" cy="332.6" r="1.48"/>
<circle cx="182.0" cy="331.6" r="1.48"/>
<circle cx="182.0" cy="333.6" r="1.48"/>
<circle cx="190.8" cy="334.4" r="1.48"/>
<circle cx="173.1" cy="339.5" r="1.48"/>
<circle cx="177.5" cy="336.5" r="1.48"/>
<circle cx="177.5" cy="340.4" r="1.48"/>
<circle cx="182.0" cy="338.0" r="1.48"/>
<circle cx="186.4" cy="337.5" r="1.48"/>
<circle cx="186.4" cy="340.4" r="1.48"/>
<circle cx="182.0" cy="343.4" r="1.48"/>
<circle cx="182.0" cy="349.1" r="1.48"/>
<circle cx="251.0" cy="300.6" r="1.48"/>
<circle cx="255.7" cy="301.0" r="1.48"/>
<circle cx="246.9" cy="310.7" r="1.48"/>
<circle cx="251.0" cy="311.1" r="1.48"/>
<circle cx="255.7" cy="308.7" r="1.48"/>
<circle cx="255.7" cy="313.1" r="1.48"/>
<circle cx="260.1" cy="307.9" r="1.48"/>
<circle cx="260.1" cy="311.1" r="1.48"/>
<circle cx="242.0" cy="315.5" r="1.48"/>
<circle cx="246.9" cy="317.9" r="1.48"/>
<circle cx="251.0" cy="318.7" r="1.48"/>
<circle cx="255.7" cy="319.5" r="1.48"/>
<circle cx="260.1" cy="318.7" r="1.48"/>
<circle cx="264.5" cy="317.9" r="1.48"/>
<circle cx="269.0" cy="316.3" r="1.48"/>
<circle cx="238.0" cy="321.1" r="1.48"/>
<circle cx="242.4" cy="321.9" r="1.48"/>
<circle cx="246.9" cy="322.7" r="1.48"/>
<circle cx="251.0" cy="323.1" r="1.48"/>
<circle cx="255.7" cy="322.7" r="1.48"/>
<circle cx="260.1" cy="323.1" r="1.48"/>
<circle cx="264.5" cy="322.3" r="1.48"/>
<circle cx="269.0" cy="321.5" r="1.48"/>
<circle cx="273.4" cy="320.7" r="1.48"/>
<circle cx="233.6" cy="324.7" r="1.48"/>
<circle cx="238.0" cy="325.4" r="1.48"/>
<circle cx="277.4" cy="324.7" r="1.48"/>
<circle cx="246.9" cy="325.5" r="1.48"/>
<circle cx="251.0" cy="326.0" r="1.48"/>
<circle cx="255.7" cy="325.8" r="1.48"/>
<circle cx="260.1" cy="326.0" r="1.48"/>
<circle cx="264.5" cy="326.0" r="1.48"/>
<circle cx="269.0" cy="325.5" r="1.48"/>
<circle cx="273.4" cy="325.0" r="1.48"/>
<circle cx="242.4" cy="330.2" r="1.48"/>
<circle cx="246.9" cy="330.6" r="1.48"/>
<circle cx="251.0" cy="328.6" r="1.48"/>
<circle cx="251.0" cy="333.0" r="1.48"/>
<circle cx="255.7" cy="330.6" r="1.48"/>
<circle cx="255.7" cy="334.2" r="1.48"/>
<circle cx="260.1" cy="331.4" r="1.48"/>
<circle cx="260.1" cy="333.4" r="1.48"/>
<circle cx="264.5" cy="331.0" r="1.48"/>
<circle cx="269.0" cy="329.8" r="1.48"/>
<circle cx="233.6" cy="334.2" r="1.48"/>
<circle cx="238.0" cy="334.6" r="1.48"/>
<circle cx="242.4" cy="335.0" r="1.48"/>
<circle cx="269.0" cy="335.9" r="1.48"/>
<circle cx="273.4" cy="334.6" r="1.48"/>
<circle cx="277.4" cy="334.2" r="1.48"/>
<circle cx="246.9" cy="337.9" r="1.48"/>
<circle cx="246.9" cy="339.9" r="1.48"/>
<circle cx="251.0" cy="338.3" r="1.48"/>
<circle cx="255.7" cy="338.7" r="1.48"/>
<circle cx="260.1" cy="338.7" r="1.48"/>
<circle cx="260.1" cy="341.1" r="1.48"/>
<circle cx="264.5" cy="338.3" r="1.48"/>
<circle cx="264.5" cy="340.3" r="1.48"/>
<circle cx="251.0" cy="343.9" r="1.48"/>
<circle cx="251.0" cy="346.3" r="1.48"/>
<circle cx="255.7" cy="343.9" r="1.48"/>
<circle cx="260.1" cy="347.1" r="1.48"/>
<circle cx="264.5" cy="345.5" r="1.48"/>
<circle cx="255.7" cy="349.1" r="1.48"/>
<circle cx="461.8" cy="361.0" r="1.48"/>
<circle cx="461.8" cy="365.9" r="1.48"/>
<circle cx="466.2" cy="364.8" r="1.48"/>
<circle cx="457.3" cy="367.8" r="1.48"/>
<circle cx="461.8" cy="370.5" r="1.48"/>
<circle cx="448.2" cy="372.8" r="1.48"/>
<circle cx="452.6" cy="374.1" r="1.48"/>
<circle cx="457.4" cy="375.0" r="1.48"/>
<circle cx="461.8" cy="375.9" r="1.48"/>
<circle cx="465.9" cy="375.6" r="1.48"/>
<circle cx="470.5" cy="374.6" r="1.48"/>
<circle cx="474.9" cy="373.3" r="1.48"/>
<circle cx="479.3" cy="371.9" r="1.48"/>
<circle cx="483.7" cy="377.6" r="1.48"/>
<circle cx="439.4" cy="379.0" r="1.48"/>
<circle cx="439.4" cy="381.7" r="1.48"/>
<circle cx="439.4" cy="385.5" r="1.48"/>
<circle cx="439.4" cy="387.8" r="1.48"/>
<circle cx="443.8" cy="379.0" r="1.48"/>
<circle cx="443.8" cy="381.7" r="1.48"/>
<circle cx="443.8" cy="385.5" r="1.48"/>
<circle cx="443.8" cy="387.8" r="1.48"/>
<circle cx="448.2" cy="379.0" r="1.48"/>
<circle cx="448.2" cy="381.7" r="1.48"/>
<circle cx="448.2" cy="385.5" r="1.48"/>
<circle cx="448.2" cy="388.4" r="1.48"/>
<circle cx="452.7" cy="379.0" r="1.48"/>
<circle cx="452.7" cy="381.7" r="1.48"/>
<circle cx="452.7" cy="385.5" r="1.48"/>
<circle cx="452.7" cy="388.4" r="1.48"/>
<circle cx="457.1" cy="379.0" r="1.48"/>
<circle cx="457.1" cy="381.7" r="1.48"/>
<circle cx="457.1" cy="385.5" r="1.48"/>
<circle cx="457.1" cy="388.4" r="1.48"/>
<circle cx="461.5" cy="379.0" r="1.48"/>
<circle cx="461.5" cy="381.7" r="1.48"/>
<circle cx="461.5" cy="385.5" r="1.48"/>
<circle cx="461.5" cy="388.4" r="1.48"/>
<circle cx="465.9" cy="379.0" r="1.48"/>
<circle cx="465.9" cy="381.7" r="1.48"/>
<circle cx="465.9" cy="385.5" r="1.48"/>
<circle cx="465.9" cy="388.4" r="1.48"/>
<circle cx="470.3" cy="379.0" r="1.48"/>
<circle cx="470.3" cy="381.7" r="1.48"/>
<circle cx="470.3" cy="385.5" r="1.48"/>
<circle cx="470.3" cy="388.4" r="1.48"/>
<circle cx="474.8" cy="379.0" r="1.48"/>
<circle cx="474.8" cy="381.7" r="1.48"/>
<circle cx="474.8" cy="385.5" r="1.48"/>
<circle cx="474.8" cy="388.4" r="1.48"/>
<circle cx="479.2" cy="379.0" r="1.48"/>
<circle cx="479.2" cy="381.7" r="1.48"/>
<circle cx="479.2" cy="385.5" r="1.48"/>
<circle cx="479.2" cy="387.8" r="1.48"/>
<circle cx="483.6" cy="379.0" r="1.48"/>
<circle cx="483.6" cy="381.7" r="1.48"/>
<circle cx="483.6" cy="385.5" r="1.48"/>
<circle cx="483.6" cy="387.8" r="1.48"/>
<circle cx="452.6" cy="391.2" r="1.48"/>
<circle cx="461.8" cy="390.3" r="1.48"/>
<circle cx="465.7" cy="389.5" r="1.48"/>
<circle cx="470.5" cy="391.6" r="1.48"/>
<circle cx="457.4" cy="393.8" r="1.48"/>
<circle cx="461.8" cy="395.2" r="1.48"/>
<circle cx="466.2" cy="393.8" r="1.48"/>
<circle cx="441.6" cy="383.4" r="1.48"/>
<circle cx="441.6" cy="387.0" r="1.48"/>
<circle cx="446.0" cy="383.4" r="1.48"/>
<circle cx="446.0" cy="387.0" r="1.48"/>
<circle cx="450.4" cy="383.4" r="1.48"/>
<circle cx="450.4" cy="387.0" r="1.48"/>
<circle cx="454.9" cy="383.4" r="1.48"/>
<circle cx="454.9" cy="387.0" r="1.48"/>
<circle cx="459.3" cy="383.4" r="1.48"/>
<circle cx="459.3" cy="387.0" r="1.48"/>
<circle cx="463.7" cy="383.4" r="1.48"/>
<circle cx="463.7" cy="387.0" r="1.48"/>
<circle cx="468.1" cy="383.4" r="1.48"/>
<circle cx="468.1" cy="387.0" r="1.48"/>
<circle cx="472.5" cy="383.4" r="1.48"/>
<circle cx="472.5" cy="387.0" r="1.48"/>
<circle cx="477.0" cy="383.4" r="1.48"/>
<circle cx="477.0" cy="387.0" r="1.48"/>
<circle cx="481.4" cy="383.4" r="1.48"/>
<circle cx="481.4" cy="387.0" r="1.48"/>
<circle cx="535.0" cy="299.1" r="1.48"/>
<circle cx="530.5" cy="304.5" r="1.48"/>
<circle cx="535.0" cy="305.8" r="1.48"/>
<circle cx="530.5" cy="310.3" r="1.48"/>
<circle cx="535.0" cy="312.9" r="1.48"/>
<circle cx="539.4" cy="310.5" r="1.48"/>
<circle cx="526.2" cy="315.4" r="1.48"/>
<circle cx="530.5" cy="316.6" r="1.48"/>
<circle cx="535.0" cy="318.0" r="1.48"/>
<circle cx="539.4" cy="315.4" r="1.48"/>
<circle cx="539.4" cy="319.5" r="1.48"/>
<circle cx="543.8" cy="315.1" r="1.48"/>
<circle cx="535.0" cy="323.4" r="1.48"/>
<circle cx="530.5" cy="329.5" r="1.48"/>
<circle cx="535.0" cy="330.0" r="1.48"/>
<circle cx="535.0" cy="337.2" r="1.48"/>
<circle cx="539.4" cy="336.3" r="1.48"/>
<circle cx="530.5" cy="340.2" r="1.48"/>
<circle cx="535.0" cy="342.4" r="1.48"/>
<circle cx="535.0" cy="348.0" r="1.48"/>
<circle cx="530.5" cy="352.2" r="1.48"/>
<circle cx="535.0" cy="352.8" r="1.48"/>
<circle cx="539.4" cy="354.6" r="1.48"/>
<circle cx="535.0" cy="357.8" r="1.48"/>
<circle cx="530.5" cy="363.8" r="1.48"/>
<circle cx="535.0" cy="363.8" r="1.48"/>
<circle cx="539.4" cy="363.4" r="1.48"/>
<circle cx="526.1" cy="366.1" r="1.48"/>
<circle cx="543.6" cy="366.0" r="1.48"/>
<circle cx="548.0" cy="365.6" r="1.48"/>
<circle cx="530.4" cy="367.4" r="1.48"/>
<circle cx="534.8" cy="368.3" r="1.48"/>
<circle cx="539.2" cy="367.9" r="1.48"/>
<circle cx="521.6" cy="369.6" r="1.48"/>
<circle cx="526.0" cy="371.4" r="1.48"/>
<circle cx="530.4" cy="372.3" r="1.48"/>
<circle cx="534.8" cy="370.9" r="1.48"/>
<circle cx="539.2" cy="371.8" r="1.48"/>
<circle cx="543.5" cy="370.9" r="1.48"/>
<circle cx="521.6" cy="374.0" r="1.48"/>
<circle cx="526.0" cy="374.9" r="1.48"/>
<circle cx="530.4" cy="375.8" r="1.48"/>
<circle cx="534.8" cy="374.0" r="1.48"/>
<circle cx="543.5" cy="375.8" r="1.48"/>
<circle cx="547.9" cy="374.9" r="1.48"/>
<circle cx="534.8" cy="378.4" r="1.48"/>
<circle cx="539.2" cy="378.0" r="1.48"/>
<circle cx="530.4" cy="380.6" r="1.48"/>
<circle cx="512.9" cy="381.2" r="1.48"/>
<circle cx="517.3" cy="381.5" r="1.48"/>
<circle cx="521.6" cy="382.1" r="1.48"/>
<circle cx="526.0" cy="383.0" r="1.48"/>
<circle cx="530.4" cy="383.5" r="1.48"/>
<circle cx="534.8" cy="383.6" r="1.48"/>
<circle cx="539.2" cy="383.5" r="1.48"/>
<circle cx="543.5" cy="382.8" r="1.48"/>
<circle cx="547.9" cy="381.9" r="1.48"/>
<circle cx="552.3" cy="381.5" r="1.48"/>
<circle cx="556.7" cy="380.8" r="1.48"/>
<circle cx="539.2" cy="384.5" r="1.48"/>
<circle cx="534.8" cy="388.2" r="1.48"/>
<circle cx="608.1" cy="286.4" r="1.48"/>
<circle cx="612.7" cy="288.3" r="1.48"/>
<circle cx="603.7" cy="291.4" r="1.48"/>
<circle cx="608.1" cy="291.6" r="1.48"/>
<circle cx="608.1" cy="297.5" r="1.48"/>
<circle cx="608.1" cy="304.7" r="1.48"/>
<circle cx="612.7" cy="307.7" r="1.48"/>
<circle cx="608.1" cy="309.5" r="1.48"/>
<circle cx="599.4" cy="310.8" r="1.48"/>
<circle cx="617.1" cy="310.8" r="1.48"/>
<circle cx="612.7" cy="312.5" r="1.48"/>
<circle cx="603.7" cy="313.4" r="1.48"/>
<circle cx="608.1" cy="314.7" r="1.48"/>
<circle cx="590.7" cy="315.0" r="1.48"/>
<circle cx="595.0" cy="315.6" r="1.48"/>
<circle cx="599.4" cy="316.0" r="1.48"/>
<circle cx="603.7" cy="316.5" r="1.48"/>
<circle cx="608.1" cy="316.6" r="1.48"/>
<circle cx="612.7" cy="316.4" r="1.48"/>
<circle cx="617.1" cy="316.4" r="1.48"/>
<circle cx="621.2" cy="316.0" r="1.48"/>
<circle cx="625.3" cy="315.1" r="1.48"/>
<circle cx="608.1" cy="319.5" r="1.48"/>
<circle cx="586.4" cy="321.8" r="1.48"/>
<circle cx="590.4" cy="322.1" r="1.48"/>
<circle cx="594.9" cy="323.0" r="1.48"/>
<circle cx="599.3" cy="323.4" r="1.48"/>
<circle cx="603.7" cy="324.2" r="1.48"/>
<circle cx="608.1" cy="324.6" r="1.48"/>
<circle cx="612.5" cy="324.2" r="1.48"/>
<circle cx="616.9" cy="323.0" r="1.48"/>
<circle cx="621.4" cy="322.6" r="1.48"/>
<circle cx="625.8" cy="321.8" r="1.48"/>
<circle cx="603.7" cy="327.0" r="1.48"/>
<circle cx="608.1" cy="326.0" r="1.48"/>
<circle cx="612.5" cy="326.6" r="1.48"/>
<circle cx="616.9" cy="326.9" r="1.48"/>
<circle cx="603.7" cy="328.7" r="1.48"/>
<circle cx="608.1" cy="330.7" r="1.48"/>
<circle cx="612.5" cy="329.1" r="1.48"/>
<circle cx="603.7" cy="338.7" r="1.48"/>
<circle cx="608.1" cy="339.9" r="1.48"/>
<circle cx="612.6" cy="342.0" r="1.48"/>
<circle cx="608.2" cy="343.7" r="1.48"/>
<circle cx="604.0" cy="349.1" r="1.48"/>
<circle cx="608.3" cy="351.9" r="1.48"/>
<circle cx="608.3" cy="358.8" r="1.48"/>
<circle cx="612.7" cy="357.8" r="1.48"/>
<circle cx="594.9" cy="361.8" r="1.48"/>
<circle cx="599.4" cy="362.9" r="1.48"/>
<circle cx="604.0" cy="363.8" r="1.48"/>
<circle cx="608.3" cy="364.2" r="1.48"/>
<circle cx="612.7" cy="362.9" r="1.48"/>
<circle cx="617.1" cy="362.1" r="1.48"/>
<circle cx="621.4" cy="360.9" r="1.48"/>
<circle cx="604.0" cy="367.0" r="1.48"/>
<circle cx="608.3" cy="368.4" r="1.48"/>
<circle cx="612.7" cy="367.9" r="1.48"/>
<circle cx="617.1" cy="367.0" r="1.48"/>
<circle cx="599.4" cy="369.3" r="1.48"/>
<circle cx="612.7" cy="369.7" r="1.48"/>
<circle cx="604.0" cy="372.9" r="1.48"/>
<circle cx="608.3" cy="373.4" r="1.48"/>
<circle cx="608.3" cy="378.0" r="1.48"/>
<circle cx="612.7" cy="377.5" r="1.48"/>
<circle cx="607.9" cy="384.2" r="1.48"/>
<circle cx="607.9" cy="397.2" r="1.48"/>
</g>
<text x="173.60" y="30.90" font-size="18.0" text-anchor="start" font-weight="bold" style="stroke-width:0.5px">A</text>
<text x="15.50" y="260.30" font-size="18.0" text-anchor="start" font-weight="bold" style="stroke-width:0.5px">B</text>
<text x="356.60" y="257.00" font-size="18.0" text-anchor="start" font-weight="bold" style="stroke-width:0.5px">C</text>
<text x="341.60" y="26.30" font-size="9.6" text-anchor="middle" font-weight="bold" >AFP</text>
<text x="176.50" y="253.10" font-size="9.6" text-anchor="middle" font-weight="bold" >AAG</text>
<text x="522.90" y="249.10" font-size="9.6" text-anchor="middle" font-weight="bold" >DCP</text>
<text transform="translate(184.80,113.60) rotate(-90) scale(1.04,1)" x="0" y="0" font-size="9.8" text-anchor="middle" font-weight="bold">ng/mL</text>
<text transform="translate(29.2,341.0) rotate(-90)" font-size="10.4" letter-spacing="0.25" text-anchor="middle" font-weight="bold">&#181;g/mL</text>
<text transform="translate(369.40,339.30) rotate(-90) scale(1.04,1)" x="0" y="0" font-size="9.8" text-anchor="middle" font-weight="bold">ng/mL</text>
<text x="302.20" y="182.30" font-size="9.5" text-anchor="middle" font-weight="bold" >2.9</text>
<text x="412.90" y="182.50" font-size="9.5" text-anchor="middle" font-weight="bold" >29.3</text>
<text x="109.20" y="409.00" font-size="9.5" text-anchor="middle" font-weight="bold" >369.5</text>
<text x="181.30" y="409.00" font-size="9.5" text-anchor="middle" font-weight="bold" >1501.2</text>
<text x="255.00" y="409.00" font-size="9.5" text-anchor="middle" font-weight="bold" >950.4</text>
<text x="461.80" y="409.80" font-size="9.5" text-anchor="middle" font-weight="bold" >1.5</text>
<text x="535.00" y="409.80" font-size="9.5" text-anchor="middle" font-weight="bold" >6.3</text>
<text x="608.50" y="409.80" font-size="9.5" text-anchor="middle" font-weight="bold" >356.4</text>
<text x="302.50" y="199.80" font-size="10.0" text-anchor="middle" font-weight="bold" >Control</text>
<text x="411.90" y="199.80" font-size="10.0" text-anchor="middle" font-weight="bold" >HCC</text>
<text x="303.50" y="210.60" font-size="9.8" text-anchor="middle" font-weight="bold"><tspan font-style="italic">n</tspan> = 96</text>
<text x="412.50" y="210.60" font-size="9.8" text-anchor="middle" font-weight="bold"><tspan font-style="italic">n</tspan> = 124</text>
<text x="108.20" y="427.20" font-size="10.0" text-anchor="middle" font-weight="bold" >Control</text>
<text x="182.00" y="426.80" font-size="10.0" text-anchor="middle" font-weight="bold" >HCC AFP <tspan font-weight="normal">&#8804;</tspan> 20</text>
<text x="255.70" y="426.80" font-size="10.0" text-anchor="middle" font-weight="bold" >HCC AFP &gt;20</text>
<text x="109.00" y="437.50" font-size="9.8" text-anchor="middle" font-weight="bold"><tspan font-style="italic">n</tspan> = 96</text>
<text x="182.70" y="437.50" font-size="9.8" text-anchor="middle" font-weight="bold"><tspan font-style="italic">n</tspan> = 61</text>
<text x="256.60" y="437.50" font-size="9.8" text-anchor="middle" font-weight="bold"><tspan font-style="italic">n</tspan> = 63</text>
<text x="461.70" y="426.00" font-size="10.0" text-anchor="middle" font-weight="bold" >Control</text>
<text x="535.10" y="426.00" font-size="10.0" text-anchor="middle" font-weight="bold" >HCC AFP <tspan font-weight="normal">&#8804;</tspan> 20</text>
<text x="608.30" y="426.00" font-size="10.0" text-anchor="middle" font-weight="bold" >HCC AFP &gt;20</text>
<text x="462.10" y="436.50" font-size="9.8" text-anchor="middle" font-weight="bold"><tspan font-style="italic">n</tspan> = 96</text>
<text x="535.60" y="436.50" font-size="9.8" text-anchor="middle" font-weight="bold"><tspan font-style="italic">n</tspan> = 61</text>
<text x="609.00" y="436.50" font-size="9.8" text-anchor="middle" font-weight="bold"><tspan font-style="italic">n</tspan> = 63</text>
</svg>
</body></html>
